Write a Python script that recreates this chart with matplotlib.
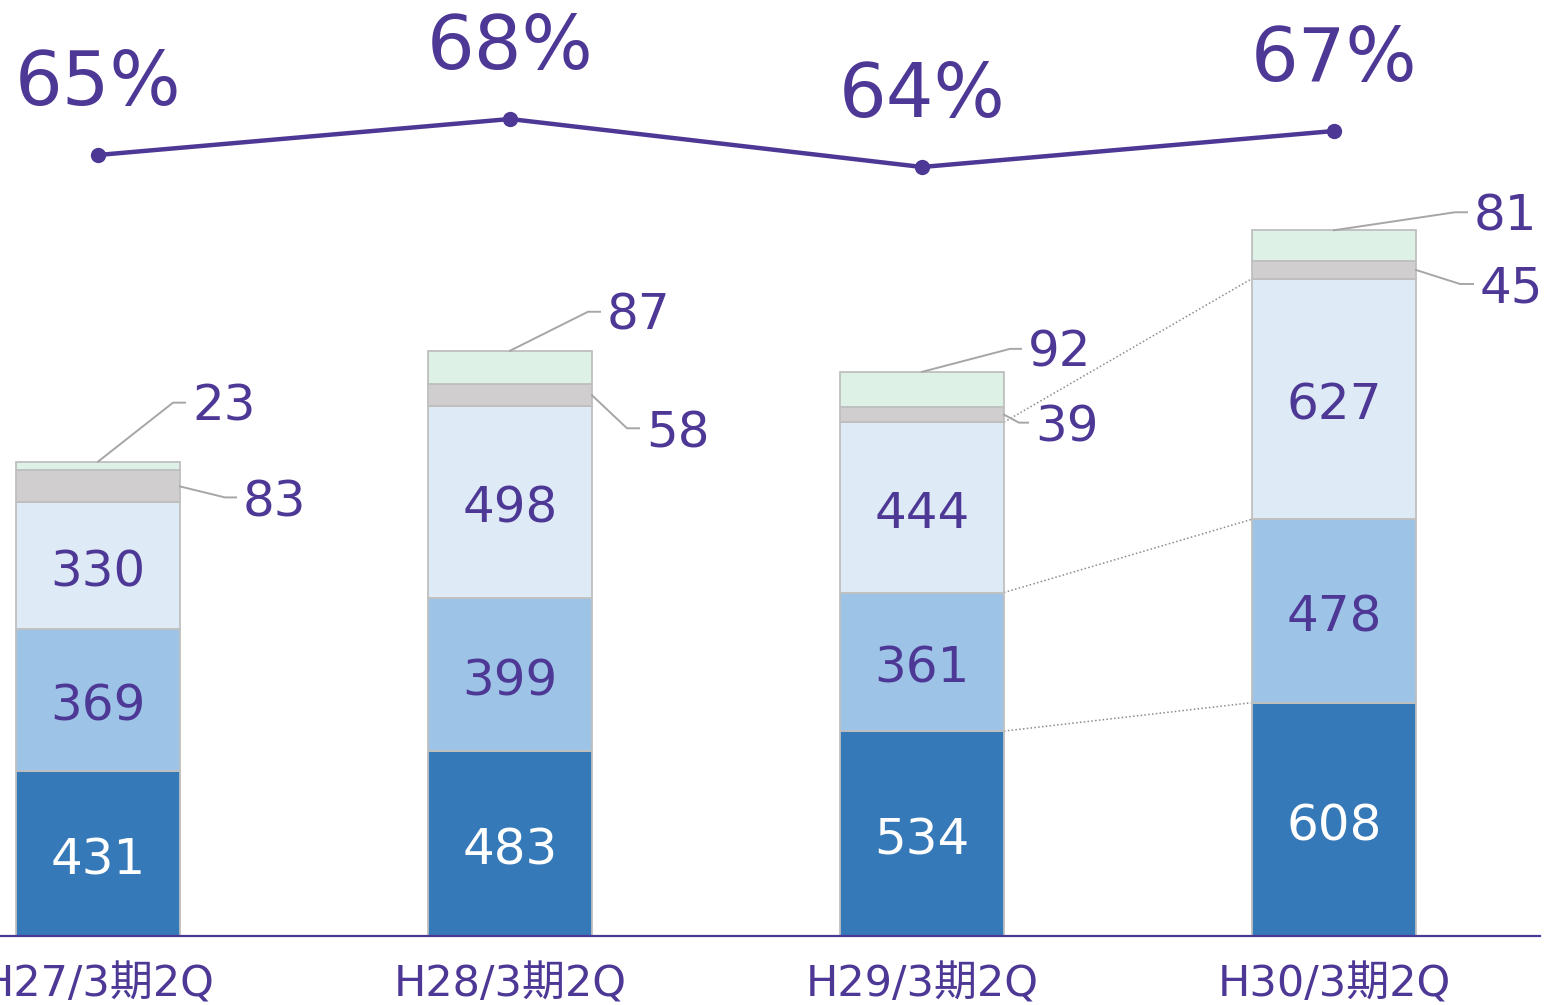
import matplotlib
matplotlib.use("Agg")
import matplotlib.pyplot as plt
import numpy as np

## Data -------------------
periods = ["H27/3期2Q", "H28/3期2Q", "H29/3期2Q", "H30/3期2Q"]
seg1 = [431, 483, 534, 608]
seg2 = [369, 399, 361, 478]
seg3 = [330, 498, 444, 627]
seg4 = [83, 58, 39, 45]
seg5 = [23, 87, 92, 81]
ratio = [65, 68, 64, 67]

## Style -------------------
purple = "#4E3896"
colors = ["#3679B8", "#9DC3E6", "#DEEAF6", "#D0CECE", "#DDF1E6"]
edge = "#BFBFBF"
lead = "#A6A6A6"
font_cjk = ["DejaVu Sans", "Noto Sans CJK JP"]

# leader offsets in pixels: (elbow dx, elbow dy, horizontal length)
top_lead = [(75, 59, 12), (78, 39, 12), (88, 23, 11), (121, 18, 12)]
gray_lead = [(45, -11, 11), (35, -33, 12), (15, -8, 9), (44, -14, 13)]

fig = plt.figure(figsize=(15.44, 10.05), dpi=100)
ax = fig.add_axes([0, 69 / 1005, 1540 / 1544, 936 / 1005])
x = np.arange(len(periods))
w = 164 / 412

segs = [seg1, seg2, seg3, seg4, seg5]
bottom = np.zeros(len(periods))
cums = []
for s, c in zip(segs, colors):
    ax.bar(x, s, w, bottom=bottom, color=c, edgecolor=edge, linewidth=1.3, zorder=2)
    bottom = bottom + np.array(s)
    cums.append(bottom.copy())

ax.set_xlim(-98 / 412, 1442 / 412)
ax.set_ylim(0, 2439)

# value labels inside the three big segments
for i in range(len(periods)):
    b = 0
    for k, s in enumerate([seg1, seg2, seg3]):
        col = "white" if k == 0 else purple
        ax.annotate(str(s[i]), (x[i], b + s[i] / 2), xytext=(0, -5),
                    textcoords="offset points", ha="center", va="center",
                    fontsize=36, color=col, zorder=3)
        b += s[i]

# leader lines for the small segments (drawn in pixel space)
fig.canvas.draw()
to_px = ax.transData.transform
for i in range(len(periods)):
    # top segment: from top centre of bar
    p0 = to_px((x[i], cums[4][i]))
    dx, dy, hl = top_lead[i]
    pts = np.array([p0, p0 + [dx, dy], p0 + [dx + hl, dy]])
    ax.plot(pts[:, 0], pts[:, 1], color=lead, lw=1.4, transform=None, zorder=3)
    fig.text(pts[2, 0] + 7, pts[2, 1] - 4, str(seg5[i]), ha="left", va="center",
             fontsize=36, color=purple, transform=None)
    # gray segment: from right edge, middle
    p0 = to_px((x[i] + w / 2, cums[2][i] + seg4[i] / 2))
    dx, dy, hl = gray_lead[i]
    pts = np.array([p0, p0 + [dx, dy], p0 + [dx + hl, dy]])
    ax.plot(pts[:, 0], pts[:, 1], color=lead, lw=1.4, transform=None, zorder=3)
    fig.text(pts[2, 0] + 7, pts[2, 1] - 5, str(seg4[i]), ha="left", va="center",
             fontsize=36, color=purple, transform=None)

# dotted series lines between the last two bars
for cum in cums[:3]:
    ax.plot([x[2] + w / 2, x[3] - w / 2], [cum[2], cum[3]], color="#8C8C8C",
            lw=1.1, ls=(0, (1, 1.5)), zorder=1)

# ratio line on twin axis
ax2 = ax.twinx()
ax2.set_ylim(65 - 781 / 12, 65 - 781 / 12 + 936 / 12)
ax2.plot(x, ratio, color=purple, lw=3.2, marker="o", ms=10, zorder=4)
for i in range(len(periods)):
    ax2.annotate(f"{ratio[i]}%", (x[i], ratio[i]), xytext=(0, 51),
                 textcoords="offset points", ha="center", va="center",
                 fontsize=54, color=purple)
ax2.axis("off")

# axes styling
for sp in ["top", "right", "left"]:
    ax.spines[sp].set_visible(False)
ax.spines["bottom"].set_color(purple)
ax.spines["bottom"].set_linewidth(1.6)
ax.spines["bottom"].set_zorder(5)
ax.set_yticks([])
ax.set_xticks(x)
ax.set_xticklabels(periods, fontsize=31, color=purple, family=font_cjk)
ax.tick_params(axis="x", length=0, pad=20)

fig.savefig("out.png", dpi=100)
